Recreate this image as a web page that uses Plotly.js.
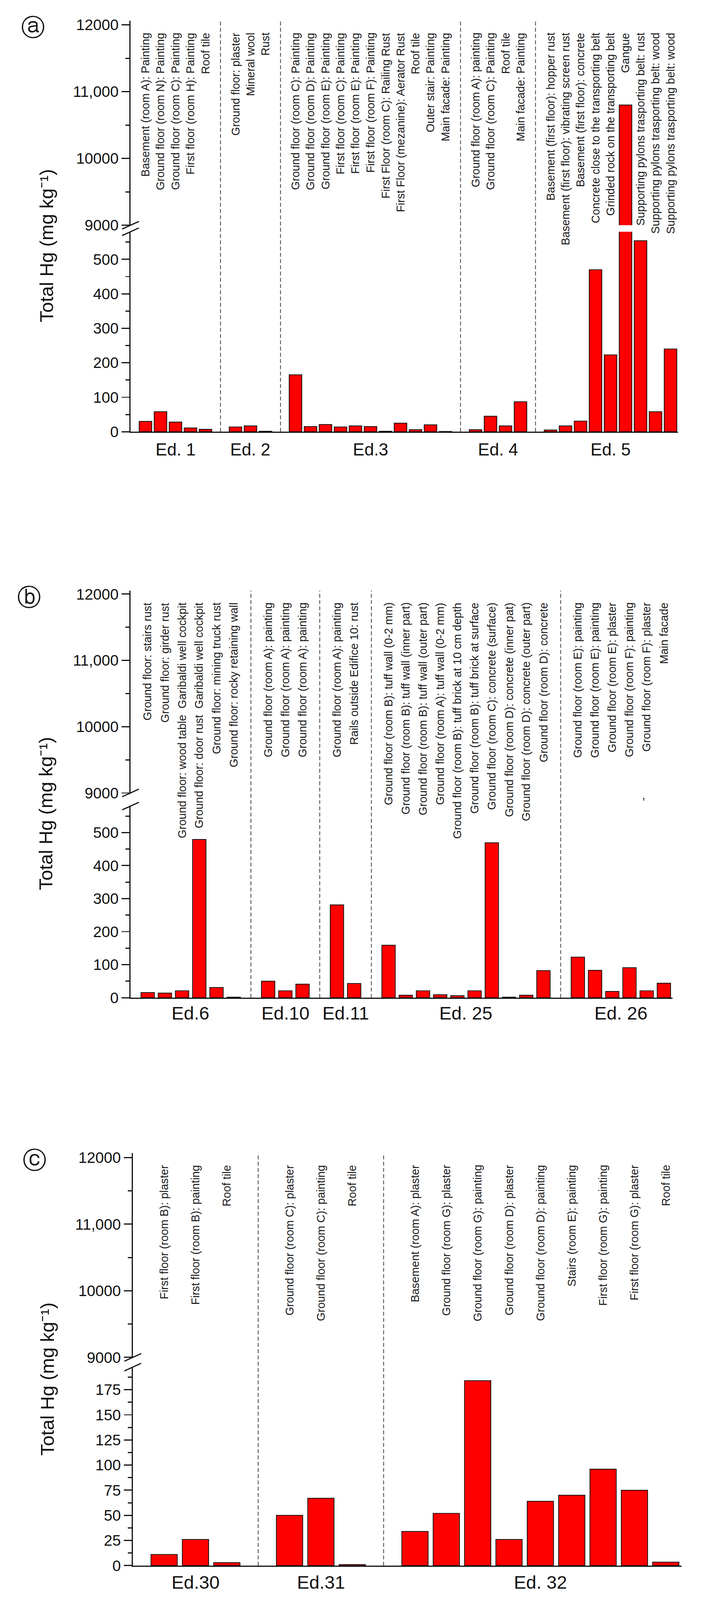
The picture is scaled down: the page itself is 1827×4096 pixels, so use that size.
<!DOCTYPE html>
<html>
<head>
<meta charset="utf-8">
<script src="https://cdn.plot.ly/plotly-3.0.1.min.js"></script>
<style>
html,body{margin:0;padding:0;background:#fff;}
#chart{width:1827px;height:4096px;}
</style>
</head>
<body>
<div id="chart"></div>
<script>
// ===================== DATA =====================
// Panel (a)
const a_groups = ['Ed. 1', 'Ed. 2', 'Ed.3', 'Ed. 4', 'Ed. 5'];
const a_labels = [
  ['Basement (room A): Painting', 'Ground floor (room N): Painting', 'Ground floor (room C): Painting', 'First floor (room H): Painting', 'Roof tile'],
  ['Ground floor: plaster', 'Mineral wool', 'Rust'],
  ['Ground floor (room C): Painting', 'Ground floor (room D): Painting', 'Ground floor (room E): Painting', 'First floor (room C): Painting', 'First floor (room E): Painting', 'First floor (room F): Painting', 'First Floor (room C): Railing Rust', 'First Floor (mezanine): Aerator Rust', 'Roof tile', 'Outer stair: Painting', 'Main facade: Painting'],
  ['Ground floor (room A): painting', 'Ground floor (room C): Painting', 'Roof tile', 'Main facade: Painting'],
  ['Basement (first floor): hopper rust', 'Basement (first floor): vibrating screen rust', 'Basement (first floor): concrete', 'Concrete close to the transporting belt', 'Grinded rock on the transporting belt', 'Gangue', 'Supporting pylons trasporting belt: rust', 'Supporting pylons trasporting belt: wood', 'Supporting pylons trasporting belt: wood']
];
const a_values = [
  [30, 58, 28, 11, 7],
  [14, 17, 1.5],
  [165, 15, 21, 14, 17, 15, 1.5, 25, 6, 20, 0.8],
  [6, 45, 17, 87],
  [5, 17, 31, 470, 223, 10800, 554, 58, 240]
];

// Panel (b)
const b_groups = ['Ed.6', 'Ed.10', 'Ed.11', 'Ed. 25', 'Ed. 26'];
const b_labels = [
  ['Ground floor: stairs rust', 'Ground floor: girder rust', 'Ground floor: wood table  Garibaldi well cockpit', 'Ground floor: door rust  Garibaldi well cockpit', 'Ground floor: mining truck rust', 'Ground floor: rocky retaining wall'],
  ['Ground floor (room A): painting', 'Ground floor (room A): painting', 'Ground floor (room A): painting'],
  ['Ground floor (room A): painting', 'Rails outside Edifice 10: rust'],
  ['Ground floor (room B): tuff wall (0-2 mm)', 'Ground floor (room B): tuff wall (inner part)', 'Ground floor (room B): tuff wall (outer part)', 'Ground floor (room A): tuff wall (0-2 mm)', 'Ground floor (room B): tuff brick at 10 cm depth', 'Ground floor (room B): tuff brick at surface', 'Ground floor (room C): concrete (surface)', 'Ground floor (room D): concrete (inner pat)', 'Ground floor (room D): concrete (outer part)', 'Ground floor (room D): concrete'],
  ['Ground floor (room E): painting', 'Ground floor (room E): painting', 'Ground floor (room E): plaster', 'Ground floor (room F): painting', 'Ground floor (room F): plaster', 'Main facade']
];
const b_values = [
  [15.5, 14, 21, 479, 31, 1.5],
  [50, 21, 41],
  [281, 43],
  [159, 7.5, 21, 9, 6, 21, 469, 1.5, 7.5, 82],
  [123, 83, 19, 91, 21, 44]
];

// Panel (c)
const c_groups = ['Ed.30', 'Ed.31', 'Ed. 32'];
const c_labels = [
  ['First floor (room B): plaster', 'First floor (room B): painting', 'Roof tile'],
  ['Ground floor (room C): plaster', 'Ground floor (room C): painting', 'Roof tile'],
  ['Basement (room A): plaster', 'Ground floor (room G): plaster', 'Ground floor (room G): painting', 'Ground floor (room D): plaster', 'Ground floor (room D): painting', 'Stairs (room E): painting', 'First floor (room G): painting', 'First floor (room G): plaster', 'Roof tile']
];
const c_values = [
  [11, 26, 3],
  [50, 67, 1],
  [34, 52, 184, 26, 64, 70, 96, 75, 3.5]
];

// Upper (broken) axis tick labels
const upperTickVals = [9000, 10000, 11000, 12000];
const upperTickText = ['9000', '10000', '11,000', '12000'];
const panelLetters = ['ⓐ', 'ⓑ', 'ⓒ'];
const yTitle = 'Total Hg (mg kg\u207B\u00B9)';

// ===================== LAYOUT GEOMETRY (reference pixels) =====================
const FW = 1866, FH = 4184;
const S = 1827 / 1866;
const px = X => X / FW;
const py = Y => 1 - Y / FH;
const FONT = 'Liberation Sans, Arial, Helvetica, sans-serif';
const INK = '#111111';

const geom = [
  {xL: 341, xR: 1772, upTop: 54.5, upBot: 589, upMax: 12060, loTop: 606, loBot: 1129, loMax: 580,
   dtick: 100, minor: 50, barW: 0.84, letterX: 86, letterY: 71, titleX: 122, titleY: 642, groupFont: 45, groupDy: 46},
  {xL: 341, xR: 1757.5, upTop: 1544.6, upBot: 2073.6, upMax: 12052, loTop: 2108, loBot: 2609, loMax: 580,
   dtick: 100, minor: 50, barW: 0.78, letterX: 76, letterY: 1562, titleX: 120, titleY: 2127, groupFont: 48, groupDy: 40},
  {xL: 347, xR: 1781, upTop: 3015, upBot: 3549.5, upMax: 12069, loTop: 3575, loBot: 4094, loMax: 197.5,
   dtick: 25, minor: 12.5, barW: 0.84, letterX: 90, letterY: 3034, titleX: 124, titleY: 3606, groupFont: 48, groupDy: 44}
];

const panelData = [
  {groups: a_groups, labels: a_labels, values: a_values},
  {groups: b_groups, labels: b_labels, values: b_values},
  {groups: c_groups, labels: c_labels, values: c_values}
];

function positions(labels) {
  let pos = 0;
  const xs = [], seps = [], centers = [], texts = [];
  labels.forEach((g, gi) => {
    const start = pos;
    g.forEach(t => { xs.push(pos); texts.push(t); pos++; });
    centers.push((start + pos - 1) / 2);
    if (gi < labels.length - 1) { seps.push(pos); pos++; }
  });
  return {xs, seps, centers, texts, n: pos};
}

const traces = [];
const layout = {
  width: 1827, height: 4096,
  margin: {l: 0, r: 0, t: 0, b: 0},
  paper_bgcolor: '#ffffff', plot_bgcolor: 'rgba(0,0,0,0)',
  showlegend: false,
  font: {family: FONT, color: INK},
  annotations: [], shapes: []
};

panelData.forEach((pd, i) => {
  const g = geom[i];
  const P = positions(pd.labels);
  const vals = [].concat(...pd.values);

  const xbName = i === 0 ? 'x' : 'x' + (2 * i + 1);
  const xtName = 'x' + (2 * i + 2);
  const ylName = i === 0 ? 'y' : 'y' + (2 * i + 1);
  const yuName = 'y' + (2 * i + 2);
  const key = n => n.replace('x', 'xaxis').replace('y', 'yaxis');

  const xRange = [-1, P.n - 0.5];
  const barStyle = {color: '#ff0000', line: {color: INK, width: 2 * S}};

  traces.push({type: 'bar', x: P.xs, y: vals, width: g.barW, marker: barStyle, xaxis: xbName, yaxis: ylName, hoverinfo: 'skip'});
  traces.push({type: 'bar', x: P.xs, y: vals, width: g.barW, marker: barStyle, xaxis: xbName, yaxis: yuName, hoverinfo: 'skip'});

  // bottom x axis
  layout[key(xbName)] = {
    domain: [px(g.xL), px(g.xR)], range: xRange, anchor: ylName,
    showline: true, linewidth: 3 * S, linecolor: INK,
    ticks: '', showticklabels: false, showgrid: false, zeroline: false, fixedrange: true
  };
  // top x axis (frame with inside ticks)
  layout[key(xtName)] = {
    overlaying: xbName, anchor: yuName, side: 'top', range: xRange,
    tickmode: 'array', tickvals: Array.from({length: P.n}, (_, k) => k),
    ticks: 'inside', ticklen: 24 * S, tickwidth: 3 * S, tickcolor: INK,
    showline: true, linewidth: 3 * S, linecolor: INK,
    showticklabels: false, showgrid: false, zeroline: false, fixedrange: true
  };
  // lower y axis
  layout[key(ylName)] = {
    domain: [py(g.loBot), py(g.loTop)], range: [0, g.loMax], anchor: xbName,
    tickmode: 'linear', tick0: 0, dtick: g.dtick,
    ticks: 'outside', ticklen: 20 * S, tickwidth: 3 * S, tickcolor: INK,
    minor: {ticks: 'outside', ticklen: 10 * S, tickwidth: 3 * S, tickcolor: INK, dtick: g.minor, tick0: 0},
    showline: true, linewidth: 3 * S, linecolor: INK,
    tickfont: {size: 40 * S, family: FONT, color: INK}, ticklabelstandoff: 14 * S,
    showgrid: false, zeroline: false, fixedrange: true
  };
  // upper y axis
  layout[key(yuName)] = {
    domain: [py(g.upBot), py(g.upTop)], range: [9000, g.upMax], anchor: xbName,
    tickmode: 'array', tickvals: upperTickVals, ticktext: upperTickText,
    ticks: 'outside', ticklen: 20 * S, tickwidth: 3 * S, tickcolor: INK,
    minor: {ticks: 'outside', ticklen: 10 * S, tickwidth: 3 * S, tickcolor: INK, dtick: 500, tick0: 9000},
    showline: true, linewidth: 3 * S, linecolor: INK,
    tickfont: {size: 40 * S, family: FONT, color: INK}, ticklabelstandoff: 14 * S,
    showgrid: false, zeroline: false, fixedrange: true
  };

  // category labels (rotated, hanging from the top frame)
  P.xs.forEach((x, k) => {
    layout.annotations.push({
      x: x, xref: xbName, y: 1, yref: yuName + ' domain',
      xanchor: 'center', yanchor: 'top', yshift: -(30 * S - 1),
      text: P.texts[k], textangle: -90, showarrow: false,
      font: {size: 29.5 * S, family: FONT, color: '#1a1a1a'}
    });
  });
  // group labels under the axis
  P.centers.forEach((c, k) => {
    layout.annotations.push({
      x: c, xref: xbName, y: 0, yref: ylName + ' domain',
      xanchor: 'center', yanchor: 'middle', yshift: -g.groupDy * S,
      text: pd.groups[k], showarrow: false,
      font: {size: g.groupFont * S, family: FONT, color: INK}
    });
  });
  // dashed separators between buildings
  P.seps.forEach(s => {
    layout.shapes.push({
      type: 'line', xref: xbName, yref: 'paper',
      x0: s, x1: s, y0: py(g.loBot), y1: py(g.upTop),
      line: {color: '#3c3c3c', width: 2 * S, dash: '10px,6px'}
    });
  });
  // break marks on the y axis
  [g.upBot, g.loTop].forEach(Y => {
    layout.shapes.push({
      type: 'line', xref: 'paper', yref: 'paper',
      x0: px(g.xL - 22), x1: px(g.xL + 22), y0: py(Y + 10), y1: py(Y - 10),
      line: {color: INK, width: 3 * S}
    });
  });
  // y-axis title
  layout.annotations.push({
    x: px(g.titleX), xref: 'paper', y: py(g.titleY), yref: 'paper',
    xanchor: 'center', yanchor: 'middle', textangle: -90,
    text: yTitle, showarrow: false,
    font: {size: 50 * S, family: FONT, color: INK}
  });
  // panel letter
  layout.annotations.push({
    x: px(g.letterX), xref: 'paper', y: py(g.letterY), yref: 'paper',
    xanchor: 'center', yanchor: 'middle',
    text: panelLetters[i], showarrow: false,
    font: {size: 62 * S, family: 'DejaVu Sans, sans-serif', color: INK}
  });
});

// stray comma visible in panel (b) of the reference
layout.annotations.push({
  x: px(1682), xref: 'paper', y: py(2080), yref: 'paper',
  xanchor: 'center', yanchor: 'middle', text: ',', showarrow: false,
  font: {size: 29.5 * S, family: FONT, color: INK}
});

Plotly.newPlot('chart', traces, layout, {staticPlot: true, displayModeBar: false});
</script>
</body>
</html>
